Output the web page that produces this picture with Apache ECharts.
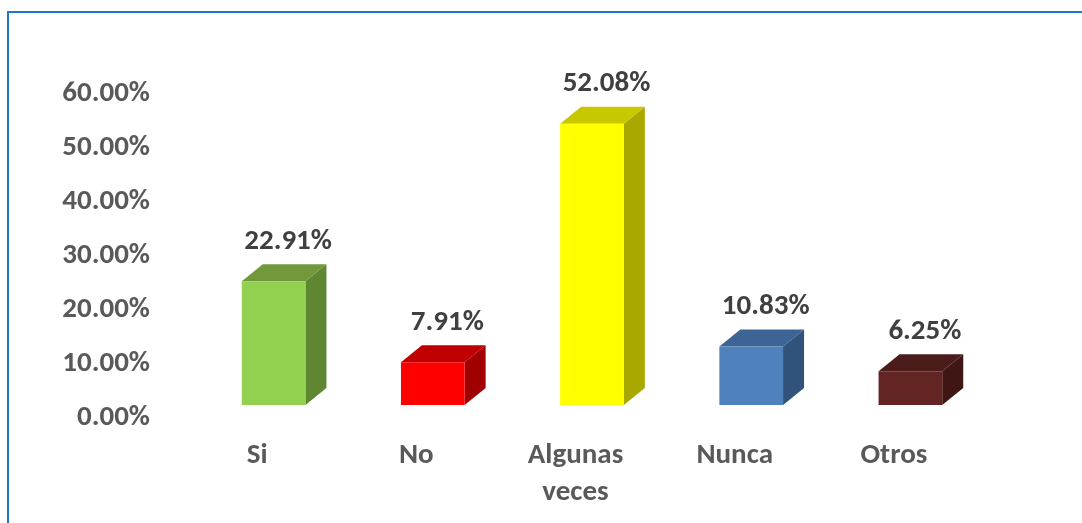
<!DOCTYPE html>
<html>
<head>
<meta charset="utf-8">
<script src="https://cdn.jsdelivr.net/npm/echarts@6/dist/echarts.min.js"></script>
<style>
  html, body { margin: 0; padding: 0; background: #fff; }
  #chart { width: 1082px; height: 523px; }
</style>
</head>
<body>
<div id="chart"></div>
<script>
// data
var categories = ['Si', 'No', 'Algunas\nveces', 'Nunca', 'Otros'];
var values = [22.91, 7.91, 52.08, 10.83, 6.25];
// front / top / side shade for each bar
var frontColors = ['#92D050', '#FF0000', '#FFFF00', '#4F81BD', '#632523'];
var topColors = ['#71993C', '#C00000', '#C8C800', '#3C6494', '#4B1C1A'];
var sideColors = ['#5F8732', '#A00000', '#A8A800', '#30527B', '#3F1614'];

var fontFam = 'Carlito, "Open Sans", sans-serif';
var fs = 29;
var dx = 21, dy = 17, lift = 13;

var myChart = echarts.init(document.getElementById('chart'));

function renderBar(params, api) {
  var i = api.value(0);
  var v = api.value(1);
  var p0 = api.coord([i, 0]);
  var p1 = api.coord([i, v]);
  var w = api.size([1, 0])[0] * 0.4;
  var xl = p0[0] - w / 2, xr = p0[0] + w / 2;
  var yb = p0[1] - lift, yt = p1[1] - lift;
  return {
    type: 'group',
    children: [
      {
        type: 'polygon',
        shape: { points: [[xr, yb], [xr + dx, yb - dy], [xr + dx, yt - dy], [xr, yt]] },
        style: { fill: sideColors[i] }
      },
      {
        type: 'polygon',
        shape: { points: [[xl, yt], [xr, yt], [xr + dx, yt - dy], [xl + dx, yt - dy]] },
        style: { fill: topColors[i] }
      },
      {
        type: 'rect',
        shape: { x: xl, y: yt, width: w, height: yb - yt },
        style: { fill: frontColors[i] }
      },
      {
        type: 'text',
        x: p0[0] + dx / 2 + 4,
        y: yt - dy - 23,
        style: {
          text: v.toFixed(2) + '%',
          fill: '#404040',
          font: 'bold ' + fs + 'px ' + fontFam,
          align: 'center',
          verticalAlign: 'middle'
        }
      }
    ]
  };
}

var option = {
  backgroundColor: '#fff',
  animation: false,
  graphic: [{
    type: 'polyline',
    shape: { points: [[8, 523], [8, 12], [1090, 12]] },
    style: { stroke: '#1F77C8', lineWidth: 2, fill: null }
  }],
  grid: { left: 194, right: 92, top: 94, bottom: 105 },
  xAxis: {
    type: 'category',
    data: categories,
    axisLine: { show: false },
    axisTick: { show: false },
    axisLabel: {
      margin: 19,
      color: '#595959',
      fontWeight: 'bold',
      fontSize: fs,
      fontFamily: fontFam,
      lineHeight: 37,
      padding: [0, 33, 0, 0]
    }
  },
  yAxis: {
    type: 'value',
    min: 0,
    max: 60,
    interval: 10,
    splitLine: { show: false },
    axisLine: { show: false },
    axisTick: { show: false },
    axisLabel: {
      margin: 44,
      color: '#595959',
      fontWeight: 'bold',
      fontSize: fs,
      fontFamily: fontFam,
      formatter: function (v) { return v.toFixed(2) + '%'; }
    }
  },
  series: [{
    type: 'custom',
    renderItem: renderBar,
    data: values.map(function (v, i) { return [i, v]; })
  }]
};
myChart.setOption(option);
</script>
</body>
</html>
